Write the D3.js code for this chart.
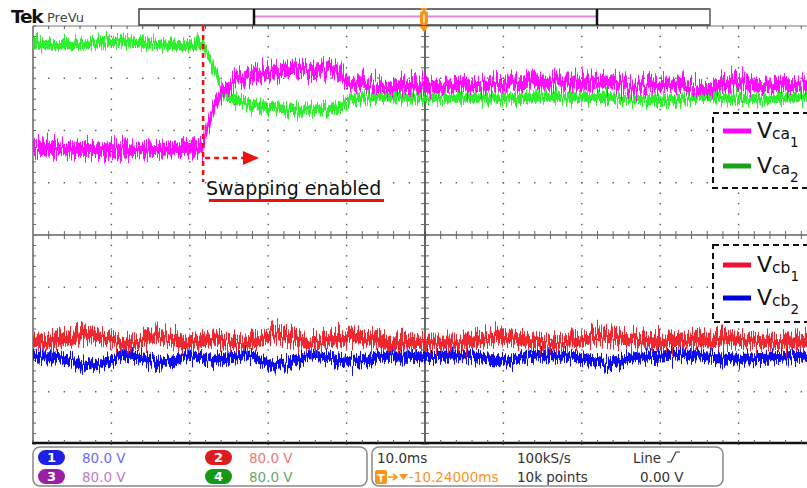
<!DOCTYPE html>
<html>
<head>
<meta charset="utf-8">
<script src="https://cdn.jsdelivr.net/npm/d3@7"></script>
<style>
  html, body { margin: 0; padding: 0; background: #fff; }
  svg { display: block; font-family: "DejaVu Sans", Verdana, sans-serif; }
</style>
</head>
<body>
<svg id="scope" width="807" height="488"></svg>
<script>
// Traces: [time in ms from the left screen edge, level in vertical divisions (0 = screen centre)]
const vca1 = [[0,1.68],[3.4,1.65],[8.6,1.63],[14.9,1.63],[18.8,1.65],[21.7,1.68],[21.9,1.82],[22.3,2.11],[23.0,2.43],
  [24.1,2.74],[26.0,2.97],[29.0,3.10],[34.1,3.16],[36.6,3.18],[39.2,3.18],[39.5,3.04],[40.4,2.93],[44.6,2.87],
  [49.4,2.83],[55.4,2.87],[63.8,2.93],[72.3,2.93],[76.5,2.83],[80.9,2.93],[85.1,2.81],[89.3,2.91],[93.6,2.85],[100,2.91]];
const vca2 = [[0,3.64],[3.5,3.64],[7.5,3.66],[10.5,3.71],[13.0,3.69],[16.0,3.64],[19.5,3.62],[21.7,3.64],[22.6,3.35],
  [23.5,2.97],[24.1,2.74],[24.7,2.64],[25.8,2.58],[27.7,2.51],[30.2,2.45],[34.0,2.39],[36.6,2.39],[38.5,2.43],
  [39.8,2.51],[40.4,2.60],[41.7,2.64],[44.6,2.64],[49.4,2.64],[54.5,2.62],[59.6,2.62],[63.4,2.64],[68.1,2.64],
  [72.3,2.64],[76.2,2.60],[80.9,2.58],[85.1,2.66],[89.3,2.62],[93.6,2.60],[98.7,2.64],[100,2.64]];
const vcb1 = [[0,-2.03],[2.2,-2.05],[4.3,-1.99],[7.7,-1.91],[9.8,-1.97],[11.7,-2.09],[13.7,-2.01],[15.8,-1.93],
  [18.1,-2.01],[19.6,-2.07],[21.3,-2.03],[23.0,-1.97],[24.7,-2.03],[27.3,-2.07],[29.0,-1.99],[30.6,-1.89],
  [33.4,-1.97],[35.3,-2.09],[37.9,-2.01],[40.8,-1.93],[43.6,-2.01],[45.5,-2.09],[49.4,-2.05],[55.4,-2.05],
  [58.3,-1.97],[59.6,-1.93],[62.8,-2.01],[65.9,-2.07],[69.8,-2.01],[72.3,-1.93],[76.2,-1.99],[78.7,-2.05],
  [82.9,-2.01],[86.4,-2.03],[89.3,-1.99],[93.6,-2.03],[96.6,-2.05],[100,-2.03]];
const vcb2 = [[0,-2.33],[2.2,-2.32],[4.3,-2.39],[7.7,-2.49],[9.8,-2.41],[11.4,-2.28],[13.7,-2.35],[16.2,-2.45],
  [18.1,-2.39],[19.6,-2.30],[21.3,-2.35],[23.0,-2.41],[24.7,-2.33],[27.3,-2.28],[29.0,-2.39],[30.6,-2.51],
  [33.4,-2.41],[35.3,-2.30],[37.9,-2.35],[40.8,-2.43],[43.6,-2.35],[45.5,-2.30],[49.4,-2.32],[55.4,-2.30],
  [58.3,-2.37],[60.8,-2.43],[62.8,-2.33],[65.9,-2.28],[69.8,-2.35],[73.2,-2.47],[76.2,-2.37],[78.7,-2.32],
  [82.9,-2.28],[86.4,-2.33],[90.2,-2.37],[93.6,-2.35],[96.6,-2.32],[100,-2.30]];

// half-width of each trace's noise band, in divisions
const bandHalfWidth = { vca1: 0.125, vca2: 0.09, vcb1: 0.125, vcb2: 0.095 };

const swapTime = 21.7;           // ms, instant swapping is switched on
const swapLabel = "Swapping enabled";

const legendTop = [{ base: "V", sub: "ca", idx: "1", key: "vca1" }, { base: "V", sub: "ca", idx: "2", key: "vca2" }];
const legendBottom = [{ base: "V", sub: "cb", idx: "1", key: "vcb1" }, { base: "V", sub: "cb", idx: "2", key: "vcb2" }];

const channelIds = ["1", "2", "3", "4"];
const channelVolts = ["80.0 V", "80.0 V", "80.0 V", "80.0 V"];
const timeInfoRow1 = ["10.0ms", "100kS/s", "Line"];
const timeInfoRow2 = ["-10.24000ms", "10k points", "0.00 V"];

const traceColor = { vca1: "#ff00ff", vca2: "#22ee22", vcb1: "#ee1c24", vcb2: "#0000ee" };
const legendColor = { vca1: "#ff00ff", vca2: "#1aa31a", vcb1: "#ee1133", vcb2: "#0000dd" };
const badgeFill = ["#1f1fe6", "#dd1c1c", "#9a1fa3", "#149914"];
const badgeText = ["#6c6cf2", "#ef7676", "#c27ac9", "#66a866"];

const W = 807, H = 488;
const svg = d3.select("#scope");

const x = d3.scaleLinear().domain([0, 100]).range([33, 817]);
const y = d3.scaleLinear().domain([-4, 4]).range([444, 26]);

const defs = svg.append("defs");
defs.append("clipPath").attr("id", "screen")
  .append("rect").attr("x", x(0)).attr("y", y(4)).attr("width", W - x(0)).attr("height", y(-4) - y(4));

// column-wise jitter so the bands read like sampled, noisy traces
function jitterFilter(id, seed, amount) {
  const f = defs.append("filter").attr("id", id)
    .attr("filterUnits", "userSpaceOnUse").attr("x", 0).attr("y", 0).attr("width", W).attr("height", H)
    .attr("color-interpolation-filters", "sRGB");
  f.append("feTurbulence").attr("type", "fractalNoise").attr("baseFrequency", "0.8 0.02")
    .attr("numOctaves", 2).attr("seed", seed).attr("result", "noise");
  f.append("feColorMatrix").attr("in", "noise").attr("type", "matrix")
    .attr("values", "0 0 0 0 0.5  0 1 0 0 0  0 0 1 0 0  0 0 0 0 1").attr("result", "shift");
  f.append("feDisplacementMap").attr("in", "SourceGraphic").attr("in2", "shift")
    .attr("scale", amount).attr("xChannelSelector", "R").attr("yChannelSelector", "G").attr("result", "d");
  f.append("feGaussianBlur").attr("in", "d").attr("stdDeviation", 0.35);
}
jitterFilter("jit-vca1", 3, 30);
jitterFilter("jit-vca2", 11, 24);
jitterFilter("jit-vcb1", 7, 30);
jitterFilter("jit-vcb2", 19, 24);

// ---------- graticule ----------
const grid = svg.append("g");
const minorT = d3.range(0, 100.01, 2);
const minorV = d3.range(-4, 4.001, 0.2);

// dotted division lines
[10, 20, 30, 40, 60, 70, 80, 90].forEach(t => {
  grid.selectAll(null).data(minorV).join("rect")
    .attr("x", x(t) - 0.7).attr("y", d => y(d) - 0.7).attr("width", 1.4).attr("height", 1.4).attr("fill", "#555");
});
[-3, -2, -1, 1, 2, 3].forEach(v => {
  grid.selectAll(null).data(minorT).join("rect")
    .attr("x", d => x(d) - 0.7).attr("y", y(v) - 0.7).attr("width", 1.4).attr("height", 1.4).attr("fill", "#555");
});

// centre cross with minor ticks
grid.append("line").attr("x1", x(0)).attr("x2", W).attr("y1", y(0)).attr("y2", y(0))
  .attr("stroke", "#8a8a8a").attr("stroke-width", 2);
grid.selectAll(null).data(minorT).join("line")
  .attr("x1", d => x(d)).attr("x2", d => x(d)).attr("y1", y(0) - 4).attr("y2", y(0) + 4)
  .attr("stroke", "#666").attr("stroke-width", 1);
grid.append("line").attr("x1", x(50)).attr("x2", x(50)).attr("y1", y(4)).attr("y2", y(-4))
  .attr("stroke", "#333").attr("stroke-width", 1.5);
grid.selectAll(null).data(minorV).join("line")
  .attr("x1", x(50) - 4).attr("x2", x(50) + 4).attr("y1", d => y(d)).attr("y2", d => y(d))
  .attr("stroke", "#666").attr("stroke-width", 1);

// screen border with edge ticks
grid.append("line").attr("x1", x(0)).attr("x2", W).attr("y1", y(4)).attr("y2", y(4)).attr("stroke", "#777").attr("stroke-width", 1.2);
grid.selectAll(null).data(minorT).join("line")
  .attr("x1", d => x(d)).attr("x2", d => x(d)).attr("y1", y(4)).attr("y2", y(4) + 3)
  .attr("stroke", "#555").attr("stroke-width", 1);
grid.append("line").attr("x1", x(0)).attr("x2", x(0)).attr("y1", y(4)).attr("y2", y(-4)).attr("stroke", "#8c8c8c").attr("stroke-width", 2);
grid.selectAll(null).data(minorV).join("line")
  .attr("x1", x(0)).attr("x2", x(0) + 3).attr("y1", d => y(d)).attr("y2", d => y(d))
  .attr("stroke", "#666").attr("stroke-width", 1);
grid.append("line").attr("x1", x(0) - 1).attr("x2", W).attr("y1", y(-4) - 1).attr("y2", y(-4) - 1).attr("stroke", "#111").attr("stroke-width", 2.5);
grid.selectAll(null).data(minorT).join("line")
  .attr("x1", d => x(d)).attr("x2", d => x(d)).attr("y1", y(-4) - 1).attr("y2", y(-4) - 4)
  .attr("stroke", "#555").attr("stroke-width", 1);

// ---------- traces ----------
const traces = svg.append("g").attr("clip-path", "url(#screen)");
const series = [["vca2", vca2], ["vca1", vca1], ["vcb2", vcb2], ["vcb1", vcb1]];
series.forEach(([key, data]) => {
  const hw = bandHalfWidth[key];
  const band = d3.area().curve(d3.curveLinear)
    .x(d => x(d[0])).y0(d => y(d[1] - hw)).y1(d => y(d[1] + hw));
  traces.append("g").attr("filter", `url(#jit-${key})`)
    .append("path").attr("d", band(data)).attr("fill", traceColor[key]).attr("opacity", 0.95);
});

// ---------- annotation ----------
const ann = svg.append("g");
const red = "#ee1111";
ann.append("line").attr("x1", x(swapTime)).attr("x2", x(swapTime)).attr("y1", y(4)).attr("y2", 182)
  .attr("stroke", red).attr("stroke-width", 2.5).attr("stroke-dasharray", "5,4");
ann.append("line").attr("x1", x(swapTime) + 2).attr("x2", 246).attr("y1", 158).attr("y2", 158)
  .attr("stroke", red).attr("stroke-width", 2.5).attr("stroke-dasharray", "5,4");
ann.append("path").attr("d", "M243,151 L259,158 L243,165 Z").attr("fill", red);
ann.append("text").attr("x", 206).attr("y", 195).attr("font-size", 19).attr("fill", "#111").text(swapLabel);
ann.append("line").attr("x1", 209).attr("x2", 384).attr("y1", 200.5).attr("y2", 200.5)
  .attr("stroke", red).attr("stroke-width", 3);

// ---------- legends ----------
function legend(items, box, rowY) {
  const g = svg.append("g");
  g.append("rect").attr("x", box[0]).attr("y", box[1]).attr("width", box[2]).attr("height", box[3])
    .attr("fill", "#fff").attr("stroke", "#111").attr("stroke-width", 2).attr("stroke-dasharray", "6,4");
  items.forEach((it, i) => {
    const cy = rowY[i];
    g.append("line").attr("x1", box[0] + 10).attr("x2", box[0] + 38).attr("y1", cy).attr("y2", cy)
      .attr("stroke", legendColor[it.key]).attr("stroke-width", 5);
    const t = g.append("text").attr("x", box[0] + 44).attr("y", cy + 7).attr("fill", "#111");
    t.append("tspan").attr("font-size", 22).text(it.base);
    t.append("tspan").attr("font-size", 15.5).attr("dy", 1).text(it.sub);
    t.append("tspan").attr("font-size", 13.5).attr("dy", 8).text(it.idx);
  });
}
legend(legendTop, [713, 113, 100, 75], [131, 166]);
legend(legendBottom, [713, 245, 100, 77], [265, 298]);

// ---------- header ----------
const hdr = svg.append("g");
hdr.append("text").attr("x", 11).attr("y", 23).attr("font-size", 18.5).attr("font-weight", "bold")
  .attr("letter-spacing", -1.2).attr("fill", "#111").text("Tek");
hdr.append("text").attr("x", 47).attr("y", 22).attr("font-size", 13).attr("fill", "#444").text("PreVu");
hdr.append("rect").attr("x", 139).attr("y", 9).attr("width", 571).attr("height", 16)
  .attr("fill", "#fff").attr("stroke", "#222").attr("stroke-width", 1.3);
hdr.append("line").attr("x1", 710).attr("x2", 710).attr("y1", 9).attr("y2", 25).attr("stroke", "#888").attr("stroke-width", 1.5);
hdr.append("line").attr("x1", 255).attr("x2", 596).attr("y1", 16.5).attr("y2", 16.5).attr("stroke", "#dd88dd").attr("stroke-width", 2.2);
[254, 597].forEach(px => hdr.append("line").attr("x1", px).attr("x2", px).attr("y1", 9).attr("y2", 25)
  .attr("stroke", "#111").attr("stroke-width", 2.5));
const orange = "#f7941d";
const tx = x(50) - 1;
hdr.append("path").attr("d", `M${tx - 4},8 L${tx + 4},8 L${tx},12 Z`).attr("fill", orange);
hdr.append("rect").attr("x", tx - 4).attr("y", 11).attr("width", 8).attr("height", 14).attr("rx", 3).attr("fill", orange);
hdr.append("line").attr("x1", tx).attr("x2", tx).attr("y1", 14).attr("y2", 23).attr("stroke", "#fde3bf").attr("stroke-width", 1.4);
hdr.append("path").attr("d", `M${tx - 5},26 L${tx + 5},26 L${tx},32 Z`).attr("fill", orange);

// ---------- status bar ----------
const bar = svg.append("g").attr("font-size", 13.5);
bar.append("rect").attr("x", 33).attr("y", 447).attr("width", 334).attr("height", 39).attr("rx", 7)
  .attr("fill", "#fff").attr("stroke", "#888").attr("stroke-width", 1.5);
bar.append("rect").attr("x", 372).attr("y", 447).attr("width", 351).attr("height", 39).attr("rx", 7)
  .attr("fill", "#fff").attr("stroke", "#888").attr("stroke-width", 1.5);
channelIds.forEach((id, i) => {
  const bx = i % 2 === 0 ? 38 : 205, by = i < 2 ? 450 : 469;
  bar.append("rect").attr("x", bx).attr("y", by).attr("width", 27).attr("height", 15).attr("rx", 7.5).attr("fill", badgeFill[i]);
  bar.append("text").attr("x", bx + 13.5).attr("y", by + 12).attr("text-anchor", "middle")
    .attr("font-size", 13).attr("font-weight", "bold").attr("fill", "#fff").text(id);
  bar.append("text").attr("x", bx + 44).attr("y", by + 13).attr("fill", badgeText[i]).text(channelVolts[i]);
});
bar.append("text").attr("x", 377).attr("y", 463).attr("fill", "#333").text(timeInfoRow1[0]);
bar.append("text").attr("x", 517).attr("y", 463).attr("fill", "#333").text(timeInfoRow1[1]);
bar.append("text").attr("x", 633).attr("y", 463).attr("fill", "#333").text(timeInfoRow1[2]);
bar.append("path").attr("d", "M667,462 L671,462 L676,452 L680,452").attr("fill", "none").attr("stroke", "#333").attr("stroke-width", 1.2);
bar.append("rect").attr("x", 375).attr("y", 470).attr("width", 12).attr("height", 14).attr("rx", 2).attr("fill", orange);
bar.append("text").attr("x", 381).attr("y", 482).attr("text-anchor", "middle").attr("font-size", 11)
  .attr("font-weight", "bold").attr("fill", "#fff").text("T");
bar.append("path").attr("d", "M388,477 L396,477 M393,474 L397,477 L393,480").attr("fill", "none").attr("stroke", orange).attr("stroke-width", 1.6);
bar.append("path").attr("d", "M399,474 L408,474 L403.5,480 Z").attr("fill", orange);
bar.append("text").attr("x", 409).attr("y", 482).attr("fill", orange).text(timeInfoRow2[0]);
bar.append("text").attr("x", 517).attr("y", 482).attr("fill", "#333").text(timeInfoRow2[1]);
bar.append("text").attr("x", 640).attr("y", 482).attr("fill", "#333").text(timeInfoRow2[2]);
</script>
</body>
</html>
